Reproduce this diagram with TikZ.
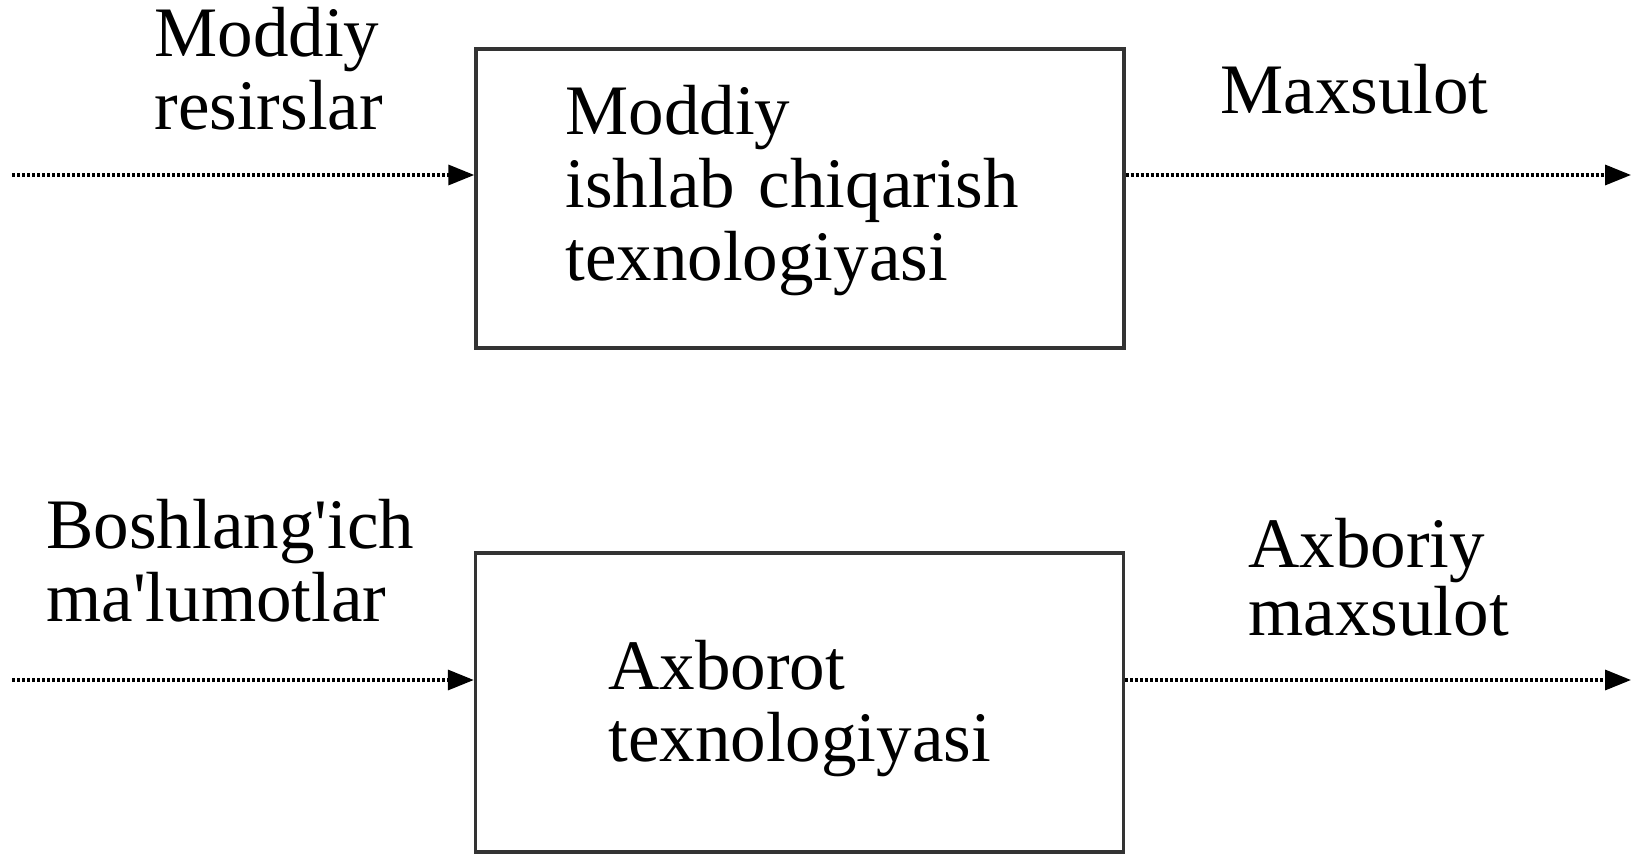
\documentclass[tikz,border=0pt]{standalone}
\usepackage{fontspec}
\setmainfont{Liberation Serif}
\usetikzlibrary{arrows.meta}
\begin{document}
\begin{tikzpicture}[x=0.5pt,y=-0.5pt,
  lbl/.style={anchor=base west,inner sep=0pt,font=\fontsize{35.5pt}{37pt}\selectfont},
  procbox/.style={draw=black!80,line width=1.7pt,minimum width=324pt,minimum height=149.5pt,inner sep=0pt},
  flow/.style={line width=1.7pt,dash pattern=on 1.4pt off 1.1pt,-{Triangle[length=13pt,width=10pt]}}]
\useasboundingbox (0,0) rectangle (1631,855);
% boxes
\node[procbox] (box1) at (800,198.5) {};
\node[procbox] (box2) at (799.5,702.5) {};
% texts
\node[lbl] (t1a) at (154,57) {Moddiy};
\node[lbl] (t1b) at (154,130) {resirslar};
\node[lbl] (b1a) at (565,135) {Moddiy};
\node[lbl] (b1b) at (565,208) {ishlab\hspace{3pt} chiqarish};
\node[lbl] (b1c) at (565,281) {texnologiyasi};
\node[lbl] (o1a) at (1220,114) {Maxsulot};
\node[lbl] (t2a) at (46,548) {Boshlang\textquotesingle ich};
\node[lbl] (t2b) at (46,621) {ma\textquotesingle lumotlar};
\node[lbl] (b2a) at (608,689) {Axborot};
\node[lbl] (b2b) at (608,761) {texnologiyasi};
\node[lbl] (o2a) at (1248,567) {Axboriy};
\node[lbl] (o2b) at (1248,635) {maxsulot};
% connectors
\coordinate (in1) at (12,175);
\coordinate (out1) at (1631,175);
\coordinate (in2) at (12,680);
\coordinate (out2) at (1631,680);
\draw[flow] (in1) -- (in1 -| box1.west);
\draw[flow] (in1 -| box1.east) -- (out1);
\draw[flow] (in2) -- (in2 -| box2.west);
\draw[flow] (in2 -| box2.east) -- (out2);
\end{tikzpicture}
\end{document}
